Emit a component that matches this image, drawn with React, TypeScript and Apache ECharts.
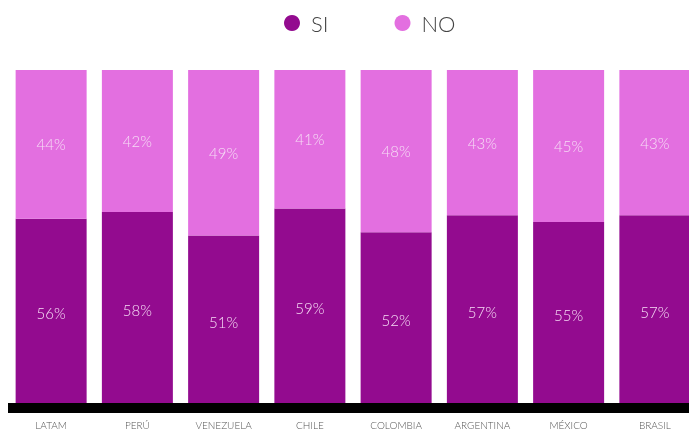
import React, { useEffect, useRef } from "react";
import * as echarts from "echarts";

const categories = ["LATAM", "PERÚ", "VENEZUELA", "CHILE", "COLOMBIA", "ARGENTINA", "MÉXICO", "BRASIL"];
const siValues = [56, 58, 51, 59, 52, 57, 55, 57];
const noValues = [44, 42, 49, 41, 48, 43, 45, 43];

export default function App() {
  const ref = useRef<HTMLDivElement>(null);
  useEffect(() => {
    const chart = echarts.init(ref.current!, null, { renderer: "svg" });
    const labelStyle = {
      show: true,
      position: "inside" as const,
      formatter: "{c}%",
      color: "#f6dcf5",
      fontFamily: "Lato",
      fontWeight: 300 as const,
      fontSize: 15,
    };
    chart.setOption({
      animation: false,
      legend: {
        data: ["SI", "NO"],
        top: 7,
        left: 279,
        icon: "circle",
        itemWidth: 16,
        itemHeight: 16,
        itemGap: 66,
        itemStyle: { borderWidth: 0 },
        textStyle: { fontFamily: "Lato", fontWeight: 300, fontSize: 22, color: "#444", padding: [0, 0, 0, 6] },
      },
      grid: { left: 8, top: 70, width: 690, bottom: 27, containLabel: false, outerBoundsMode: "none" },
      xAxis: {
        type: "category",
        data: categories,
        z: 5,
        axisLine: { lineStyle: { color: "#000", width: 10, cap: "butt" } },
        axisTick: { show: false },
        axisLabel: { margin: 12, fontFamily: "Lato", fontWeight: 300, fontSize: 10, color: "#555", interval: 0 },
      },
      yAxis: { type: "value", min: 0, max: 100, show: false },
      series: [
        {
          name: "SI",
          type: "bar",
          stack: "total",
          barWidth: 71,
          data: siValues,
          itemStyle: { color: "#930b8f" },
          label: labelStyle,
        },
        {
          name: "NO",
          type: "bar",
          stack: "total",
          barWidth: 71,
          data: noValues,
          itemStyle: { color: "#e36fe0" },
          label: labelStyle,
        },
      ],
    });
    return () => chart.dispose();
  }, []);
  return <div ref={ref} style={{ width: 689, height: 435, position: "fixed", left: 0, top: 0 }} />;
}
